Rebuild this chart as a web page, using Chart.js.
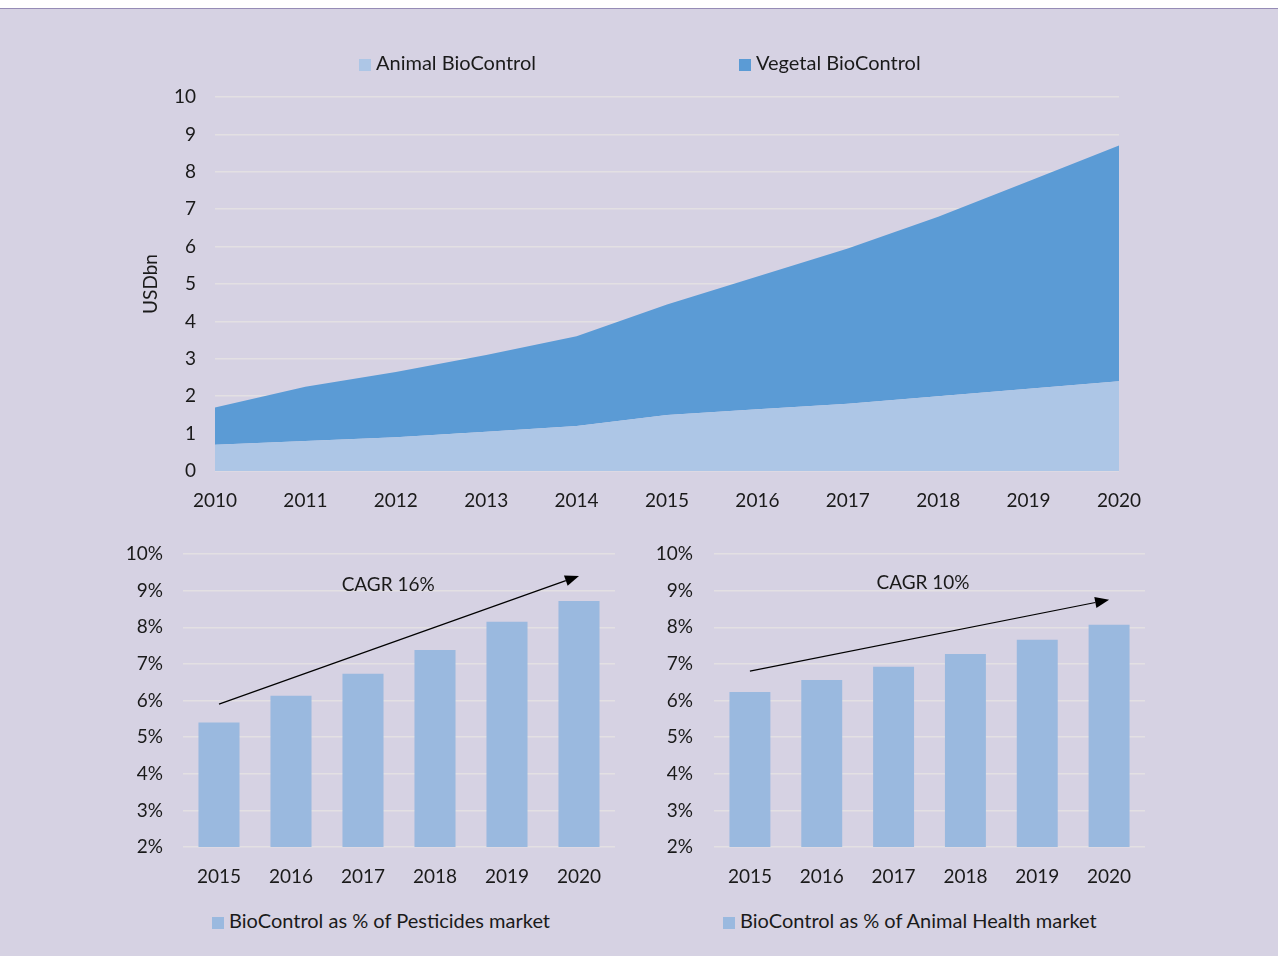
<!DOCTYPE html>
<html lang="en">
<head>
  <meta charset="UTF-8" />
  <title>BioControl market</title>
  <script src="https://cdn.jsdelivr.net/npm/chart.js"></script>
  <style>
    html, body {
      margin: 0;
      padding: 0;
      background: #ffffff;
    }
    #page {
      position: relative;
      width: 1278px;
      height: 956px;
      overflow: hidden;
    }
    #panel {
      position: absolute;
      left: 0;
      top: 8px;
      width: 1278px;
      height: 948px;
      background: #d6d2e3;
      border-top: 1.5px solid #968cb6;
    }
    canvas {
      position: absolute;
    }
    .legend {
      position: absolute;
      font-family: Lato, "Open Sans", sans-serif;
      font-size: 20px;
      color: #1a1a1a;
      white-space: nowrap;
      line-height: 24px;
    }
    .legend span.box {
      display: inline-block;
      width: 12px;
      height: 12px;
      margin-right: 5px;
      vertical-align: -1px;
    }
  </style>
</head>
<body>
<div id="page">
  <div id="panel"></div>

  <canvas id="areaChart" width="1278" height="530" style="left:0;top:0"></canvas>
  <canvas id="pestChart" width="640" height="378" style="left:0;top:514px"></canvas>
  <canvas id="animalChart" width="638" height="378" style="left:640px;top:514px"></canvas>

  <div class="legend" style="left:359px;top:50px"><span class="box" style="background:#adc6e6"></span>Animal BioControl</div>
  <div class="legend" style="left:739px;top:50px"><span class="box" style="background:#5b9bd5"></span>Vegetal BioControl</div>
  <div class="legend" style="left:212px;top:908px"><span class="box" style="background:#9ab9df"></span>BioControl as % of Pesticides market</div>
  <div class="legend" style="left:723px;top:908px"><span class="box" style="background:#9ab9df"></span>BioControl as % of Animal Health market</div>
</div>

<script>
  // market size, USD bn (stacked)
  const years = ['2010', '2011', '2012', '2013', '2014', '2015', '2016', '2017', '2018', '2019', '2020'];
  const animalBio = [0.7, 0.8, 0.9, 1.05, 1.2, 1.5, 1.65, 1.8, 2.0, 2.2, 2.4];
  const vegetalBio = [1.0, 1.45, 1.75, 2.05, 2.4, 2.95, 3.55, 4.15, 4.8, 5.55, 6.3];

  // share of each market, %
  const shareYears = ['2015', '2016', '2017', '2018', '2019', '2020'];
  const pesticideShare = [5.4, 6.13, 6.73, 7.38, 8.15, 8.72];
  const animalHealthShare = [6.23, 6.56, 6.92, 7.27, 7.66, 8.07];

  // trend arrows: [category index, %] start and end, plus label
  const pestArrow = [[0, 5.9], [5, 9.4]];
  const pestLabel = [2.35, 9.16, 'CAGR 16%'];
  const animalArrow = [[0, 6.8], [5, 8.75]];
  const animalLabel = [2.41, 9.21, 'CAGR 10%'];

  const FONT = 'Lato, "Open Sans", sans-serif';
  const TEXT = '#1a1a1a';
  const GRID = '#e3e0e3';

  Chart.defaults.font.family = FONT;
  Chart.defaults.color = TEXT;

  // draws a straight arrow with a text note above it
  const trendPlugin = {
    id: 'trend',
    afterDatasetsDraw(chart, args, opts) {
      if (!opts.arrow) return;
      const { x, y } = chart.scales;
      const ctx = chart.ctx;
      const x0 = x.getPixelForValue(opts.arrow[0][0]);
      const y0 = y.getPixelForValue(opts.arrow[0][1]);
      const x1 = x.getPixelForValue(opts.arrow[1][0]);
      const y1 = y.getPixelForValue(opts.arrow[1][1]);
      const ang = Math.atan2(y1 - y0, x1 - x0);
      const head = 14, half = 5.5;
      ctx.save();
      ctx.strokeStyle = '#000';
      ctx.fillStyle = '#000';
      ctx.lineWidth = 1.2;
      ctx.beginPath();
      ctx.moveTo(x0, y0);
      ctx.lineTo(x1 - Math.cos(ang) * head, y1 - Math.sin(ang) * head);
      ctx.stroke();
      ctx.beginPath();
      ctx.moveTo(x1, y1);
      ctx.lineTo(x1 - Math.cos(ang) * head - Math.sin(ang) * half, y1 - Math.sin(ang) * head + Math.cos(ang) * half);
      ctx.lineTo(x1 - Math.cos(ang) * head + Math.sin(ang) * half, y1 - Math.sin(ang) * head - Math.cos(ang) * half);
      ctx.closePath();
      ctx.fill();
      const lbl = opts.label;
      ctx.fillStyle = TEXT;
      ctx.font = '19px ' + FONT;
      ctx.textAlign = 'center';
      ctx.textBaseline = 'middle';
      ctx.fillText(lbl[2], x.getPixelForValue(lbl[0]), y.getPixelForValue(lbl[1]));
      ctx.restore();
    }
  };

  new Chart(document.getElementById('areaChart'), {
    type: 'line',
    data: {
      labels: years,
      datasets: [{
        label: 'Animal BioControl',
        data: animalBio,
        backgroundColor: '#adc6e6',
        borderWidth: 0,
        pointRadius: 0,
        fill: 'origin'
      }, {
        label: 'Vegetal BioControl',
        data: vegetalBio,
        backgroundColor: '#5b9bd5',
        borderWidth: 0,
        pointRadius: 0,
        fill: '-1'
      }]
    },
    options: {
      responsive: false,
      animation: false,
      layout: { padding: { left: 0, right: 159, top: 97, bottom: 0 } },
      plugins: { legend: { display: false }, tooltip: { enabled: false } },
      scales: {
        x: {
          offset: false,
          grid: { display: false, drawTicks: false },
          border: { display: false },
          ticks: { padding: 18, font: { size: 19 }, maxRotation: 0 },
          afterFit: (s) => { s.height = 59; }
        },
        y: {
          stacked: true,
          min: 0,
          max: 10,
          ticks: { stepSize: 1, padding: 19, font: { size: 19 } },
          grid: { color: GRID, lineWidth: 1.5, drawTicks: false },
          border: { display: false },
          title: { display: true, text: 'USDbn', font: { size: 19 }, padding: { top: 139, bottom: 0 } },
          afterFit: (s) => { s.width = 215; }
        }
      }
    }
  });

  function shareChart(id, values, arrow, label, yWidth, tickPad, padRight) {
    return new Chart(document.getElementById(id), {
      type: 'bar',
      data: {
        labels: shareYears,
        datasets: [{
          data: values,
          backgroundColor: '#9ab9df',
          borderWidth: 0,
          categoryPercentage: 1,
          barPercentage: 0.57
        }]
      },
      options: {
        responsive: false,
        animation: false,
        layout: { padding: { left: 0, right: padRight, top: 40, bottom: 0 } },
        plugins: {
          legend: { display: false },
          tooltip: { enabled: false },
          trend: { arrow: arrow, label: label }
        },
        scales: {
          x: {
            grid: { display: false, drawTicks: false },
            border: { display: false },
            ticks: { padding: 18, font: { size: 19 }, maxRotation: 0 },
            afterFit: (s) => { s.height = 45; }
          },
          y: {
            min: 2,
            max: 10,
            ticks: { stepSize: 1, padding: tickPad, font: { size: 19 }, callback: (v) => v + '%' },
            grid: { color: GRID, lineWidth: 1.5, drawTicks: false },
            border: { display: false },
            afterFit: (s) => { s.width = yWidth; }
          }
        }
      },
      plugins: [trendPlugin]
    });
  }

  shareChart('pestChart', pesticideShare, pestArrow, pestLabel, 183, 20, 25);
  shareChart('animalChart', animalHealthShare, animalArrow, animalLabel, 74, 21, 133);
</script>
</body>
</html>
